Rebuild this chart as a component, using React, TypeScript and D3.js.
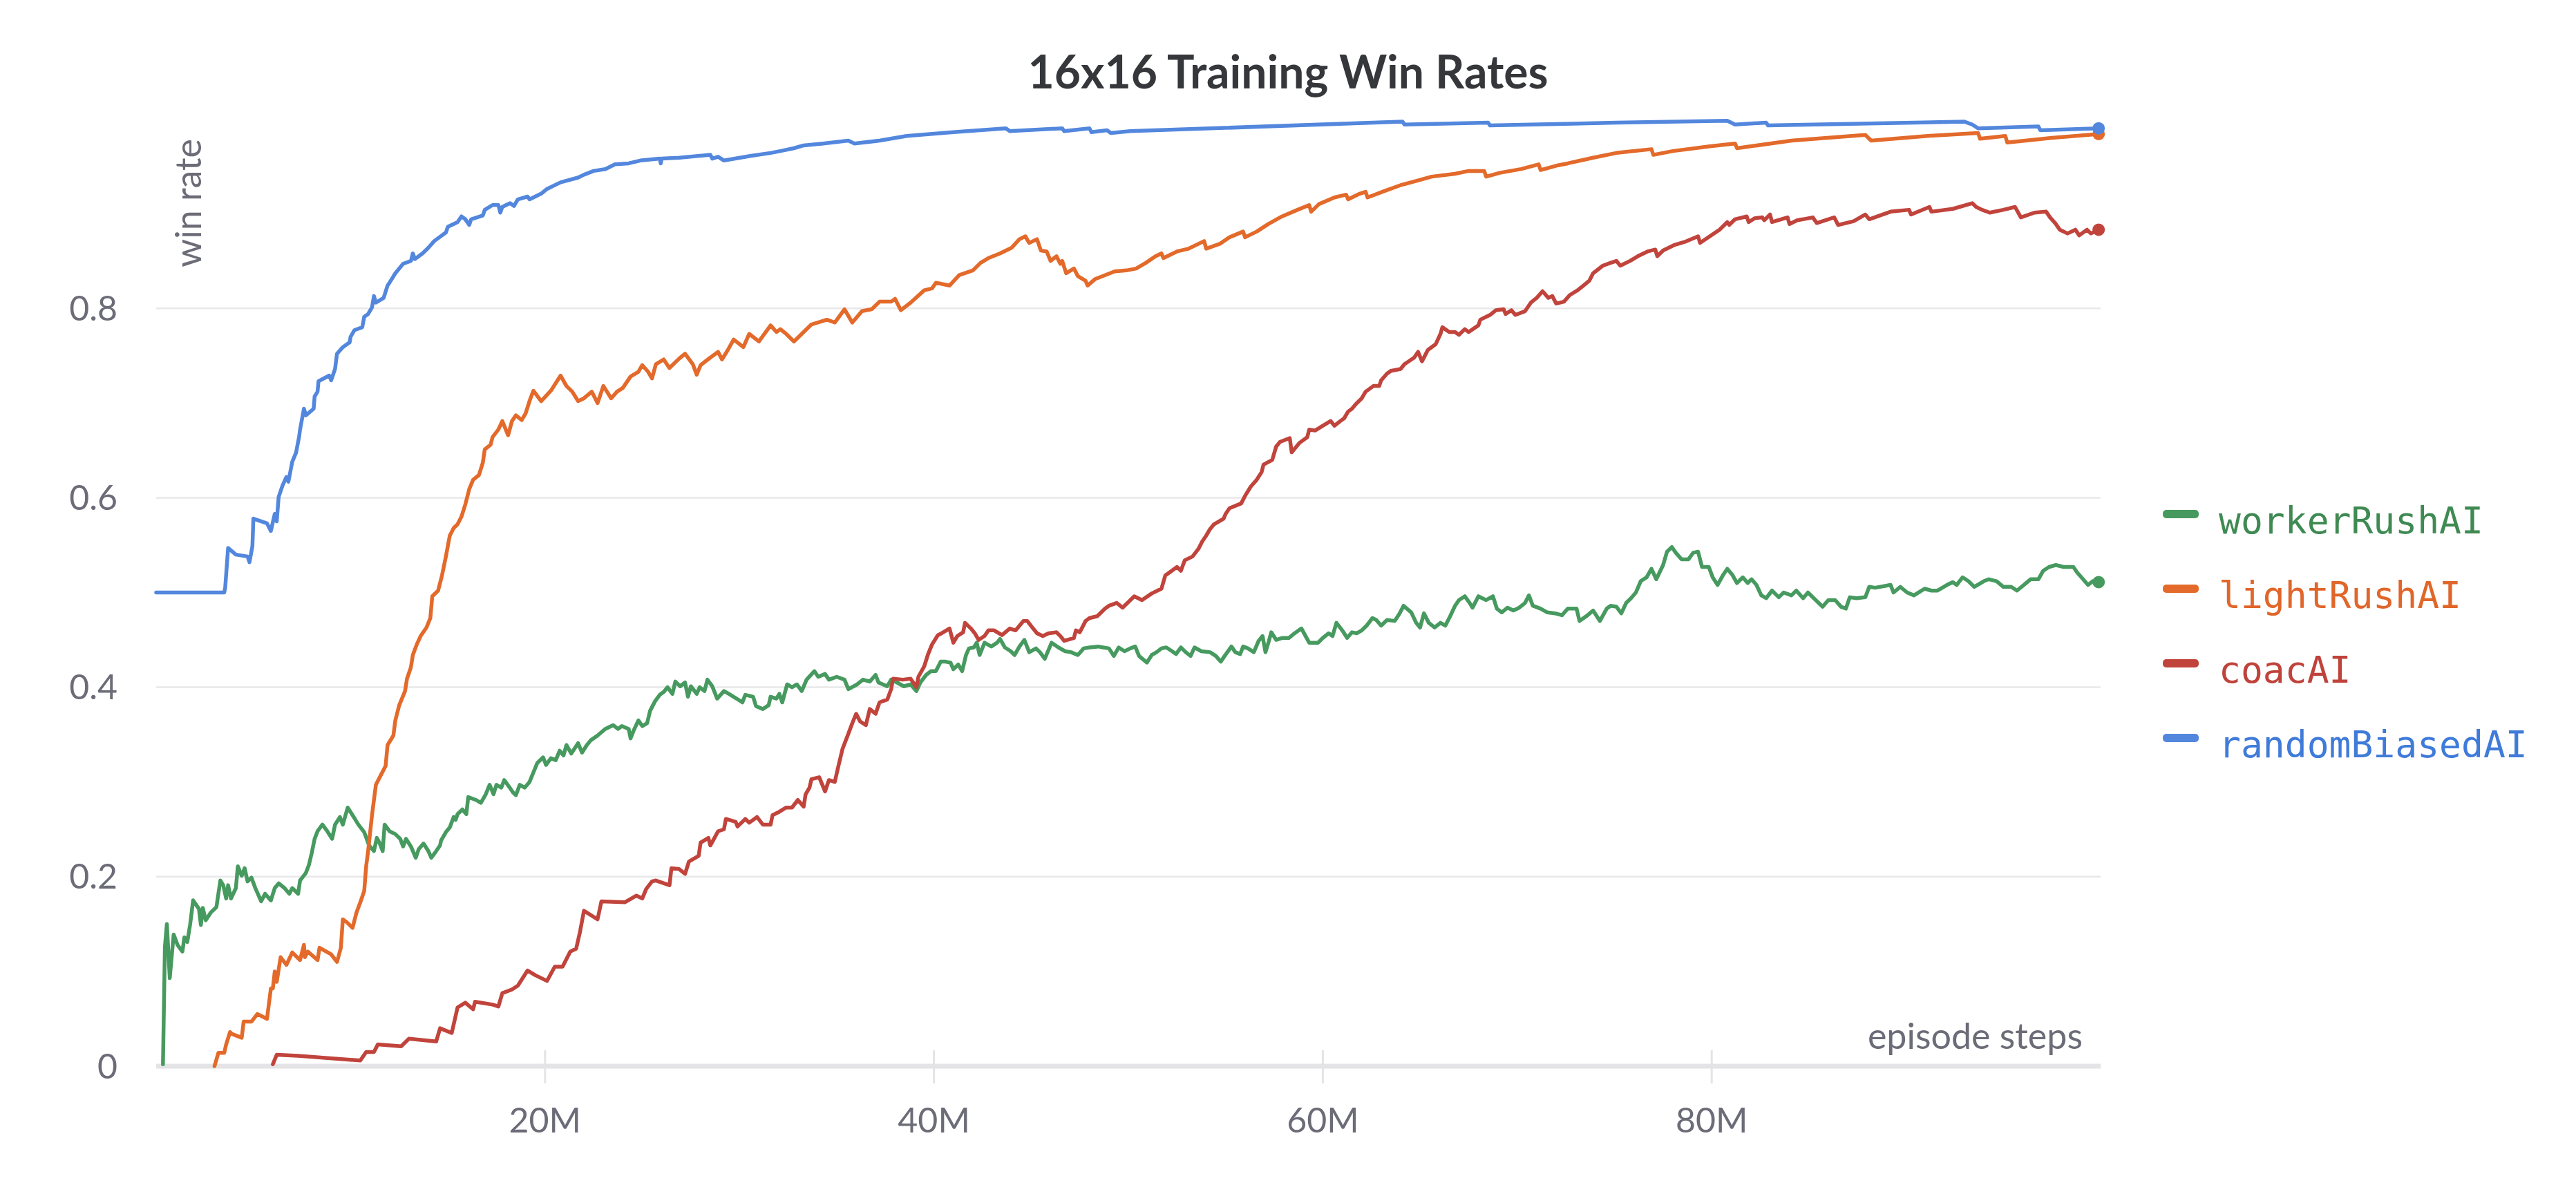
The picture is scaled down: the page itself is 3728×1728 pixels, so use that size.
import * as d3 from "d3";

// series, in legend order
const seriesNames = ["workerRushAI", "lightRushAI", "coacAI", "randomBiasedAI"];
const lineColors = ["#479a5f", "#e36a2b", "#c1443c", "#5387dd"];
const labelColors = ["#3f8a53", "#e0662a", "#bf433b", "#3f7bd9"];

// [episode steps in millions, win rate]
const workerRushAI: [number, number][] = [
  [0.35, 0.002], [0.45, 0.126], [0.55, 0.15], [0.7, 0.093], [0.9, 0.139], [1.1, 0.128], [1.35, 0.121], [1.45, 0.136],
  [1.6, 0.131], [1.75, 0.15], [1.9, 0.175], [2.2, 0.166], [2.3, 0.149], [2.4, 0.167], [2.55, 0.154], [2.8, 0.162],
  [3.1, 0.168], [3.3, 0.196], [3.45, 0.191], [3.6, 0.177], [3.7, 0.191], [3.85, 0.177], [4.1, 0.188], [4.2, 0.211],
  [4.4, 0.201], [4.55, 0.209], [4.7, 0.195], [4.9, 0.199], [5.1, 0.188], [5.4, 0.174], [5.6, 0.182], [5.9, 0.175],
  [6.1, 0.188], [6.3, 0.193], [6.6, 0.188], [6.85, 0.182], [7.0, 0.188], [7.3, 0.182], [7.4, 0.196], [7.7, 0.204],
  [7.85, 0.212], [8.0, 0.225], [8.15, 0.24], [8.3, 0.248], [8.55, 0.255], [8.8, 0.248], [9.05, 0.24], [9.2, 0.255],
  [9.45, 0.263], [9.6, 0.255], [9.85, 0.273], [10.1, 0.265], [10.4, 0.255], [10.7, 0.247], [10.95, 0.233], [11.2, 0.227],
  [11.35, 0.241], [11.5, 0.235], [11.65, 0.227], [11.75, 0.255], [12.0, 0.248], [12.3, 0.245], [12.55, 0.24], [12.7, 0.232],
  [12.85, 0.24], [13.1, 0.232], [13.35, 0.22], [13.5, 0.229], [13.75, 0.235], [14.0, 0.227], [14.15, 0.22], [14.4, 0.227],
  [14.6, 0.233], [14.65, 0.238], [14.9, 0.247], [15.1, 0.252], [15.3, 0.263], [15.4, 0.26], [15.5, 0.266], [15.75, 0.271],
  [15.95, 0.266], [16.05, 0.284], [16.45, 0.281], [16.7, 0.278], [16.95, 0.287], [17.15, 0.297], [17.35, 0.287], [17.5, 0.297],
  [17.75, 0.294], [17.9, 0.302], [18.15, 0.295], [18.35, 0.289], [18.5, 0.286], [18.7, 0.297], [18.95, 0.294], [19.2, 0.3],
  [19.4, 0.31], [19.6, 0.32], [19.9, 0.326], [20.05, 0.318], [20.3, 0.325], [20.55, 0.323], [20.75, 0.333], [20.95, 0.328],
  [21.1, 0.339], [21.35, 0.33], [21.7, 0.341], [21.9, 0.331], [22.15, 0.339], [22.35, 0.344], [22.7, 0.349], [23.1, 0.356],
  [23.5, 0.36], [23.75, 0.356], [23.95, 0.359], [24.3, 0.356], [24.4, 0.346], [24.55, 0.354], [24.8, 0.365], [25.0, 0.359],
  [25.25, 0.362], [25.4, 0.375], [25.65, 0.385], [25.9, 0.392], [26.1, 0.395], [26.3, 0.4], [26.55, 0.393], [26.7, 0.406],
  [26.95, 0.401], [27.2, 0.405], [27.35, 0.39], [27.5, 0.401], [27.8, 0.393], [27.95, 0.4], [28.2, 0.396], [28.35, 0.408],
  [28.6, 0.401], [28.85, 0.388], [29.2, 0.396], [29.45, 0.393], [29.85, 0.388], [30.15, 0.384], [30.3, 0.392], [30.7, 0.39],
  [30.85, 0.38], [31.2, 0.377], [31.5, 0.381], [31.6, 0.39], [31.9, 0.388], [32.05, 0.393], [32.2, 0.384], [32.45, 0.403],
  [32.7, 0.4], [32.95, 0.403], [33.2, 0.396], [33.45, 0.408], [33.85, 0.417], [34.05, 0.411], [34.4, 0.414], [34.6, 0.408],
  [35.0, 0.411], [35.4, 0.408], [35.6, 0.398], [36.05, 0.403], [36.35, 0.408], [36.7, 0.406], [37.0, 0.413], [37.15, 0.405],
  [37.6, 0.401], [37.8, 0.408], [38.1, 0.405], [38.45, 0.401], [38.8, 0.403], [39.1, 0.396], [39.3, 0.405], [39.6, 0.413],
  [39.85, 0.417], [40.1, 0.417], [40.35, 0.427], [40.6, 0.427], [40.85, 0.426], [41.0, 0.419], [41.25, 0.424], [41.45, 0.417],
  [41.65, 0.434], [41.8, 0.441], [42.05, 0.442], [42.2, 0.447], [42.35, 0.434], [42.6, 0.447], [42.95, 0.443], [43.25, 0.447],
  [43.4, 0.451], [43.65, 0.442], [43.95, 0.438], [44.15, 0.434], [44.4, 0.443], [44.65, 0.45], [44.9, 0.437], [45.25, 0.441],
  [45.45, 0.437], [45.7, 0.43], [46.05, 0.447], [46.4, 0.442], [46.75, 0.438], [47.05, 0.437], [47.4, 0.434], [47.7, 0.441],
  [48.0, 0.442], [48.45, 0.443], [48.7, 0.442], [49.0, 0.441], [49.25, 0.433], [49.5, 0.442], [49.8, 0.438], [50.1, 0.441],
  [50.35, 0.443], [50.55, 0.433], [50.95, 0.426], [51.2, 0.434], [51.45, 0.437], [51.7, 0.441], [51.95, 0.442], [52.25, 0.438],
  [52.45, 0.435], [52.7, 0.442], [52.95, 0.437], [53.2, 0.433], [53.4, 0.442], [53.75, 0.438], [54.2, 0.437], [54.5, 0.433],
  [54.75, 0.427], [54.95, 0.433], [55.3, 0.443], [55.5, 0.437], [55.75, 0.435], [55.9, 0.443], [56.15, 0.441], [56.45, 0.437],
  [56.7, 0.449], [56.9, 0.454], [57.05, 0.437], [57.2, 0.447], [57.35, 0.458], [57.6, 0.45], [57.9, 0.452], [58.25, 0.452],
  [58.55, 0.457], [58.9, 0.462], [59.3, 0.447], [59.75, 0.447], [60.0, 0.452], [60.3, 0.457], [60.5, 0.454], [60.7, 0.468],
  [61.0, 0.46], [61.25, 0.452], [61.5, 0.458], [61.75, 0.457], [62.0, 0.46], [62.25, 0.465], [62.55, 0.473], [62.75, 0.471],
  [63.0, 0.465], [63.3, 0.471], [63.7, 0.47], [63.95, 0.478], [64.15, 0.486], [64.55, 0.479], [64.8, 0.468], [65.0, 0.463],
  [65.2, 0.478], [65.45, 0.468], [65.75, 0.463], [66.05, 0.468], [66.3, 0.465], [66.55, 0.475], [66.8, 0.486], [67.0, 0.492],
  [67.3, 0.496], [67.55, 0.489], [67.7, 0.484], [68.0, 0.496], [68.4, 0.492], [68.75, 0.496], [68.95, 0.483], [69.2, 0.479],
  [69.5, 0.484], [69.8, 0.481], [70.1, 0.484], [70.4, 0.489], [70.6, 0.497], [70.8, 0.486], [71.2, 0.483], [71.55, 0.479],
  [71.95, 0.478], [72.3, 0.476], [72.6, 0.483], [73.05, 0.483], [73.2, 0.47], [73.55, 0.475], [73.9, 0.481], [74.25, 0.47],
  [74.6, 0.483], [74.8, 0.486], [75.1, 0.485], [75.35, 0.478], [75.6, 0.489], [75.85, 0.494], [76.1, 0.5], [76.35, 0.512],
  [76.65, 0.516], [76.9, 0.525], [77.15, 0.514], [77.5, 0.529], [77.7, 0.543], [77.95, 0.548], [78.15, 0.542], [78.45, 0.535],
  [78.8, 0.535], [79.05, 0.542], [79.3, 0.543], [79.5, 0.527], [79.85, 0.527], [80.05, 0.516], [80.3, 0.508], [80.6, 0.519],
  [80.8, 0.525], [81.05, 0.519], [81.3, 0.51], [81.6, 0.516], [81.85, 0.51], [82.05, 0.514], [82.3, 0.508], [82.55, 0.497],
  [82.8, 0.494], [83.1, 0.502], [83.45, 0.495], [83.7, 0.5], [84.1, 0.497], [84.35, 0.502], [84.7, 0.494], [84.95, 0.5],
  [85.35, 0.492], [85.7, 0.485], [86.0, 0.492], [86.35, 0.492], [86.65, 0.485], [86.9, 0.483], [87.1, 0.495], [87.45, 0.494],
  [87.9, 0.495], [88.1, 0.506], [88.4, 0.505], [89.2, 0.508], [89.35, 0.5], [89.7, 0.506], [90.05, 0.5], [90.4, 0.497],
  [90.95, 0.504], [91.3, 0.502], [91.6, 0.502], [92.1, 0.508], [92.4, 0.511], [92.6, 0.508], [92.9, 0.516], [93.2, 0.512],
  [93.5, 0.506], [94.0, 0.512], [94.25, 0.514], [94.65, 0.512], [95.0, 0.506], [95.4, 0.506], [95.7, 0.502], [96.05, 0.508],
  [96.4, 0.514], [96.8, 0.514], [97.05, 0.523], [97.35, 0.527], [97.7, 0.529], [98.1, 0.527], [98.6, 0.527], [98.8, 0.521],
  [99.1, 0.514], [99.35, 0.508], [99.6, 0.512], [99.9, 0.511],
];

const lightRushAI: [number, number][] = [
  [3.0, 0.0], [3.2, 0.014], [3.5, 0.014], [3.6, 0.023], [3.8, 0.036], [3.9, 0.034], [4.4, 0.03], [4.5, 0.047],
  [4.9, 0.047], [5.2, 0.055], [5.7, 0.05], [5.9, 0.082], [6.0, 0.082], [6.1, 0.1], [6.2, 0.089], [6.4, 0.115],
  [6.7, 0.107], [7.0, 0.12], [7.4, 0.112], [7.6, 0.128], [7.65, 0.115], [7.8, 0.121], [8.3, 0.112], [8.4, 0.125],
  [9.0, 0.118], [9.3, 0.11], [9.5, 0.125], [9.6, 0.155], [9.8, 0.152], [10.1, 0.146], [10.3, 0.162], [10.5, 0.173],
  [10.7, 0.185], [10.8, 0.211], [10.9, 0.227], [11.1, 0.265], [11.3, 0.297], [11.5, 0.305], [11.8, 0.317], [11.9, 0.339],
  [12.2, 0.349], [12.3, 0.365], [12.5, 0.381], [12.8, 0.396], [12.9, 0.409], [13.1, 0.421], [13.2, 0.434], [13.4, 0.445],
  [13.6, 0.454], [13.9, 0.463], [14.1, 0.473], [14.2, 0.496], [14.5, 0.502], [14.7, 0.518], [14.9, 0.538], [15.1, 0.56],
  [15.3, 0.568], [15.5, 0.572], [15.7, 0.58], [15.9, 0.593], [16.1, 0.609], [16.3, 0.619], [16.6, 0.624], [16.8, 0.637],
  [16.9, 0.651], [17.2, 0.656], [17.3, 0.664], [17.6, 0.672], [17.8, 0.681], [18.1, 0.666], [18.3, 0.681], [18.5, 0.687],
  [18.8, 0.682], [19.0, 0.689], [19.2, 0.702], [19.4, 0.713], [19.8, 0.702], [20.3, 0.713], [20.8, 0.729], [21.1, 0.718],
  [21.4, 0.712], [21.7, 0.702], [22.0, 0.705], [22.4, 0.712], [22.7, 0.7], [23.0, 0.718], [23.4, 0.705], [23.7, 0.712],
  [24.0, 0.716], [24.4, 0.728], [24.8, 0.733], [25.0, 0.74], [25.3, 0.733], [25.5, 0.726], [25.7, 0.741], [26.1, 0.746],
  [26.4, 0.737], [26.9, 0.747], [27.2, 0.752], [27.6, 0.741], [27.8, 0.73], [28.0, 0.74], [28.5, 0.748], [28.9, 0.754],
  [29.1, 0.746], [29.4, 0.756], [29.7, 0.767], [30.2, 0.759], [30.5, 0.773], [31.0, 0.765], [31.6, 0.782], [31.9, 0.775],
  [32.1, 0.778], [32.4, 0.773], [32.8, 0.765], [33.3, 0.775], [33.7, 0.783], [34.5, 0.788], [34.9, 0.785], [35.4, 0.799],
  [35.8, 0.785], [36.3, 0.797], [36.8, 0.799], [37.2, 0.807], [37.8, 0.807], [38.0, 0.81], [38.3, 0.798], [38.8, 0.806],
  [39.5, 0.819], [39.9, 0.821], [40.1, 0.827], [40.8, 0.824], [41.3, 0.835], [42.0, 0.84], [42.4, 0.848], [42.8, 0.853],
  [43.4, 0.858], [44.0, 0.864], [44.4, 0.873], [44.7, 0.876], [44.9, 0.869], [45.3, 0.873], [45.5, 0.861], [45.8, 0.86],
  [46.0, 0.85], [46.3, 0.855], [46.5, 0.847], [46.6, 0.85], [46.8, 0.837], [47.2, 0.842], [47.4, 0.834], [47.8, 0.829],
  [47.9, 0.824], [48.3, 0.831], [48.8, 0.835], [49.3, 0.839], [49.9, 0.84], [50.4, 0.842], [50.9, 0.848], [51.4, 0.855],
  [51.7, 0.858], [51.8, 0.853], [52.5, 0.86], [53.1, 0.863], [53.9, 0.871], [54.0, 0.863], [54.7, 0.868], [55.2, 0.875],
  [55.9, 0.881], [56.0, 0.875], [56.6, 0.881], [57.2, 0.889], [57.9, 0.897], [58.7, 0.904], [59.3, 0.909], [59.4, 0.902],
  [59.8, 0.91], [60.6, 0.917], [61.2, 0.92], [61.3, 0.915], [61.9, 0.921], [62.2, 0.923], [62.3, 0.917], [63.2, 0.924],
  [64.0, 0.93], [64.9, 0.935], [65.6, 0.939], [66.8, 0.942], [67.5, 0.945], [68.3, 0.945], [68.4, 0.939], [69.1, 0.943],
  [70.2, 0.947], [71.1, 0.952], [71.2, 0.946], [72.1, 0.951], [72.6, 0.953], [73.9, 0.959], [75.1, 0.964], [76.9, 0.968],
  [77.0, 0.962], [78.0, 0.966], [79.9, 0.971], [81.2, 0.974], [81.3, 0.969], [84.1, 0.977], [87.9, 0.983], [88.2, 0.977],
  [91.1, 0.982], [93.7, 0.985], [93.8, 0.979], [95.1, 0.982], [95.2, 0.975], [97.5, 0.98], [99.9, 0.984],
];

const coacAI: [number, number][] = [
  [6.0, 0.002], [6.2, 0.012], [7.3, 0.011], [10.5, 0.006], [10.8, 0.015], [11.2, 0.015], [11.4, 0.023], [12.6, 0.021],
  [13.0, 0.029], [14.4, 0.026], [14.6, 0.04], [15.2, 0.035], [15.5, 0.062], [15.9, 0.067], [16.3, 0.06], [16.4, 0.068],
  [17.3, 0.065], [17.6, 0.063], [17.8, 0.077], [18.3, 0.081], [18.6, 0.085], [19.1, 0.101], [19.5, 0.096], [20.1, 0.09],
  [20.5, 0.105], [20.9, 0.105], [21.3, 0.121], [21.6, 0.124], [21.8, 0.142], [22.0, 0.164], [22.7, 0.155], [22.9, 0.174],
  [24.1, 0.173], [24.7, 0.18], [25.0, 0.177], [25.2, 0.187], [25.5, 0.195], [25.7, 0.196], [26.4, 0.191], [26.5, 0.209],
  [26.9, 0.208], [27.2, 0.203], [27.4, 0.216], [27.9, 0.222], [28.0, 0.236], [28.4, 0.241], [28.5, 0.233], [28.9, 0.248],
  [29.2, 0.25], [29.3, 0.261], [29.8, 0.258], [29.9, 0.253], [30.3, 0.261], [30.5, 0.257], [30.9, 0.263], [31.2, 0.255],
  [31.6, 0.255], [31.7, 0.265], [32.0, 0.268], [32.4, 0.273], [32.7, 0.273], [33.0, 0.281], [33.3, 0.274], [33.4, 0.287],
  [33.6, 0.294], [33.7, 0.303], [34.1, 0.305], [34.4, 0.29], [34.6, 0.302], [34.9, 0.3], [35.1, 0.318], [35.3, 0.335],
  [35.6, 0.351], [35.8, 0.362], [36.0, 0.372], [36.2, 0.364], [36.5, 0.36], [36.7, 0.377], [37.0, 0.372], [37.2, 0.384],
  [37.6, 0.387], [37.8, 0.398], [37.9, 0.409], [38.4, 0.408], [38.8, 0.409], [39.1, 0.4], [39.2, 0.411], [39.5, 0.422],
  [39.7, 0.435], [39.9, 0.445], [40.2, 0.455], [40.4, 0.457], [40.8, 0.462], [41.0, 0.447], [41.2, 0.454], [41.5, 0.458],
  [41.6, 0.468], [41.9, 0.462], [42.1, 0.457], [42.3, 0.45], [42.6, 0.454], [42.8, 0.46], [43.1, 0.46], [43.5, 0.455],
  [43.9, 0.462], [44.2, 0.46], [44.6, 0.47], [44.8, 0.47], [45.1, 0.462], [45.3, 0.457], [45.6, 0.454], [45.9, 0.457],
  [46.3, 0.458], [46.5, 0.454], [46.7, 0.449], [47.2, 0.452], [47.3, 0.46], [47.5, 0.458], [47.8, 0.47], [48.0, 0.473],
  [48.4, 0.475], [48.8, 0.483], [49.0, 0.486], [49.4, 0.489], [49.7, 0.484], [50.1, 0.492], [50.3, 0.496], [50.7, 0.492],
  [51.2, 0.499], [51.7, 0.504], [51.9, 0.518], [52.1, 0.521], [52.5, 0.527], [52.7, 0.523], [52.9, 0.534], [53.3, 0.538],
  [53.6, 0.546], [53.8, 0.554], [54.0, 0.56], [54.2, 0.567], [54.4, 0.572], [54.9, 0.578], [55.0, 0.583], [55.2, 0.589],
  [55.8, 0.594], [56.0, 0.602], [56.3, 0.612], [56.6, 0.619], [56.85, 0.627], [56.95, 0.635], [57.4, 0.64], [57.6, 0.654],
  [57.8, 0.659], [58.3, 0.663], [58.4, 0.648], [58.8, 0.658], [59.2, 0.664], [59.3, 0.672], [59.6, 0.671], [60.0, 0.676],
  [60.4, 0.681], [60.6, 0.676], [60.9, 0.681], [61.1, 0.684], [61.3, 0.691], [61.5, 0.694], [61.7, 0.699], [62.0, 0.705],
  [62.2, 0.712], [62.6, 0.718], [62.9, 0.718], [63.0, 0.724], [63.3, 0.731], [63.5, 0.734], [64.0, 0.736], [64.2, 0.741],
  [64.7, 0.748], [64.9, 0.754], [65.1, 0.744], [65.4, 0.756], [65.8, 0.762], [66.05, 0.773], [66.15, 0.78], [66.5, 0.775],
  [66.8, 0.775], [67.0, 0.772], [67.3, 0.778], [67.5, 0.775], [68.0, 0.782], [68.1, 0.788], [68.6, 0.793], [68.9, 0.798],
  [69.3, 0.799], [69.4, 0.794], [69.7, 0.798], [69.9, 0.793], [70.4, 0.797], [70.7, 0.806], [71.0, 0.811], [71.3, 0.818],
  [71.6, 0.811], [71.8, 0.813], [72.0, 0.805], [72.4, 0.807], [72.7, 0.814], [73.1, 0.819], [73.4, 0.824], [73.7, 0.829],
  [73.9, 0.837], [74.4, 0.845], [74.8, 0.848], [75.1, 0.85], [75.3, 0.845], [75.8, 0.85], [76.2, 0.855], [76.7, 0.86],
  [77.1, 0.862], [77.2, 0.855], [77.5, 0.861], [78.1, 0.867], [78.6, 0.87], [79.3, 0.876], [79.4, 0.869], [79.9, 0.876],
  [80.4, 0.883], [80.8, 0.891], [80.9, 0.888], [81.2, 0.894], [81.8, 0.897], [81.9, 0.891], [82.2, 0.895], [82.6, 0.896],
  [82.7, 0.893], [83.0, 0.899], [83.1, 0.891], [83.9, 0.896], [84.0, 0.889], [84.4, 0.893], [84.7, 0.894], [85.2, 0.896],
  [85.4, 0.89], [86.3, 0.896], [86.5, 0.888], [87.3, 0.892], [87.9, 0.899], [88.1, 0.894], [89.2, 0.902], [90.15, 0.904],
  [90.25, 0.899], [91.2, 0.907], [91.3, 0.902], [92.4, 0.905], [93.4, 0.911], [93.6, 0.907], [93.9, 0.904], [94.3, 0.901],
  [95.0, 0.904], [95.6, 0.907], [95.9, 0.896], [96.6, 0.901], [97.2, 0.902], [97.4, 0.896], [97.7, 0.889], [97.9, 0.883],
  [98.3, 0.879], [98.7, 0.883], [98.9, 0.877], [99.3, 0.883], [99.5, 0.879], [99.9, 0.883],
];

const randomBiasedAI: [number, number][] = [
  [0.0, 0.5], [3.5, 0.5], [3.55, 0.505], [3.7, 0.547], [4.1, 0.54], [4.7, 0.538], [4.8, 0.532], [4.95, 0.549],
  [5.0, 0.578], [5.7, 0.573], [5.9, 0.565], [6.1, 0.583], [6.2, 0.575], [6.3, 0.601], [6.5, 0.613], [6.7, 0.622],
  [6.8, 0.617], [7.0, 0.638], [7.2, 0.648], [7.3, 0.659], [7.35, 0.664], [7.4, 0.672], [7.6, 0.694], [7.7, 0.687],
  [8.1, 0.694], [8.15, 0.707], [8.3, 0.712], [8.35, 0.723], [8.9, 0.729], [9.0, 0.724], [9.2, 0.736], [9.3, 0.752],
  [9.6, 0.759], [9.95, 0.764], [10.0, 0.77], [10.2, 0.777], [10.6, 0.78], [10.7, 0.791], [10.9, 0.794], [11.1, 0.801],
  [11.2, 0.813], [11.3, 0.806], [11.7, 0.811], [11.9, 0.824], [12.0, 0.827], [12.3, 0.837], [12.7, 0.847], [13.1, 0.85],
  [13.2, 0.858], [13.3, 0.852], [13.7, 0.858], [14.0, 0.864], [14.3, 0.871], [14.9, 0.88], [15.0, 0.886], [15.5, 0.891],
  [15.7, 0.897], [15.9, 0.894], [16.1, 0.888], [16.2, 0.894], [16.8, 0.898], [16.9, 0.904], [17.3, 0.909], [17.6, 0.909],
  [17.7, 0.901], [17.8, 0.907], [18.2, 0.911], [18.4, 0.908], [18.6, 0.915], [19.1, 0.918], [19.2, 0.915], [19.8, 0.921],
  [20.1, 0.926], [20.8, 0.933], [21.7, 0.938], [22.0, 0.941], [22.5, 0.945], [23.1, 0.947], [23.6, 0.952], [24.3, 0.953],
  [24.9, 0.956], [25.9, 0.958], [25.95, 0.953], [26.0, 0.958], [26.9, 0.959], [28.5, 0.962], [28.6, 0.958], [28.9, 0.96],
  [29.2, 0.956], [30.6, 0.961], [31.6, 0.964], [32.1, 0.966], [32.8, 0.969], [33.3, 0.972], [34.3, 0.974], [35.6, 0.977],
  [35.9, 0.974], [37.2, 0.977], [38.6, 0.982], [41.0, 0.986], [43.7, 0.99], [43.9, 0.987], [46.6, 0.99], [46.7, 0.987],
  [48.0, 0.99], [48.1, 0.986], [48.9, 0.988], [49.1, 0.985], [50.1, 0.987], [64.1, 0.997], [64.2, 0.994], [68.5, 0.996],
  [68.6, 0.993], [75.1, 0.996], [80.8, 0.998], [81.2, 0.994], [82.8, 0.996], [82.9, 0.993], [93.0, 0.997], [93.4, 0.994],
  [93.7, 0.99], [96.8, 0.992], [96.9, 0.988], [99.9, 0.99],
];

const seriesData = [workerRushAI, lightRushAI, coacAI, randomBiasedAI];

const yTicks = [0, 0.2, 0.4, 0.6, 0.8];
const xTicks = [20, 40, 60, 80];

const width = 3728;
const height = 1728;
const plotLeft = 226;
const plotRight = 3040;
const plotTop = 172;
const plotBottom = 1543;

const tickFont = "Lato, 'Noto Sans', sans-serif";
const monoFont = "'DejaVu Sans Mono', 'Liberation Mono', monospace";
const tickColor = "#6c6c78";

function App() {
  const x = d3.scaleLinear().domain([0, 100]).range([plotLeft, plotRight]);
  const y = d3.scaleLinear().domain([0, 1]).range([plotBottom, plotTop]);

  const line = d3
    .line<[number, number]>()
    .x((d) => x(d[0]))
    .y((d) => y(d[1]));

  return (
    <svg
      width={width}
      height={height}
      style={{ position: "absolute", left: 0, top: 0, background: "#fff" }}
    >
      <text
        x={width / 2}
        y={128}
        textAnchor="middle"
        fontFamily="Lato, 'Noto Sans', sans-serif"
        fontWeight={700}
        fontSize={66}
        fill="#35373b"
      >
        16x16 Training Win Rates
      </text>

      {/* grid */}
      {yTicks.slice(1).map((t) => (
        <line key={t} x1={plotLeft} x2={plotRight} y1={y(t)} y2={y(t)} stroke="#e8e8ea" strokeWidth={2.5} />
      ))}
      <line x1={plotLeft} x2={plotRight} y1={plotBottom} y2={plotBottom} stroke="#e4e4e7" strokeWidth={7} />
      {xTicks.map((t) => (
        <line key={t} x1={x(t)} x2={x(t)} y1={1520} y2={1568} stroke="#e4e4e7" strokeWidth={3} />
      ))}

      {/* tick labels */}
      {yTicks.map((t) => (
        <text
          key={t}
          x={170}
          y={y(t)}
          dy="0.35em"
          textAnchor="end"
          fontFamily={tickFont}
          fontSize={50}
          fill={tickColor}
        >
          {t === 0 ? "0" : d3.format(".1f")(t)}
        </text>
      ))}
      {xTicks.map((t) => (
        <text
          key={t}
          x={x(t)}
          y={1639}
          textAnchor="middle"
          fontFamily={tickFont}
          fontSize={50}
          fill={tickColor}
        >
          {t}M
        </text>
      ))}

      <text
        transform="translate(291,201) rotate(-90)"
        textAnchor="end"
        fontFamily={tickFont}
        fontSize={52}
        fill={tickColor}
      >
        win rate
      </text>
      <text x={3014} y={1518} textAnchor="end" fontFamily={tickFont} fontSize={52} fill={tickColor}>
        episode steps
      </text>

      {/* series */}
      {seriesData.map((data, i) => (
        <path
          key={seriesNames[i]}
          d={line(data) ?? ""}
          fill="none"
          stroke={lineColors[i]}
          strokeWidth={5.5}
          strokeLinejoin="round"
          strokeLinecap="round"
        />
      ))}
      {seriesData.map((data, i) => {
        const last = data[data.length - 1];
        return <circle key={seriesNames[i]} cx={x(last[0])} cy={y(last[1])} r={9} fill={lineColors[i]} />;
      })}

      {/* legend */}
      {seriesNames.map((name, i) => (
        <g key={name} transform={`translate(3130, ${744 + i * 108})`}>
          <rect x={0} y={-6} width={52} height={12} rx={5} fill={lineColors[i]} />
          <text x={81} y={28} fontFamily={monoFont} fontSize={53} fill={labelColors[i]}>
            {name}
          </text>
        </g>
      ))}
    </svg>
  );
}

export default App;
